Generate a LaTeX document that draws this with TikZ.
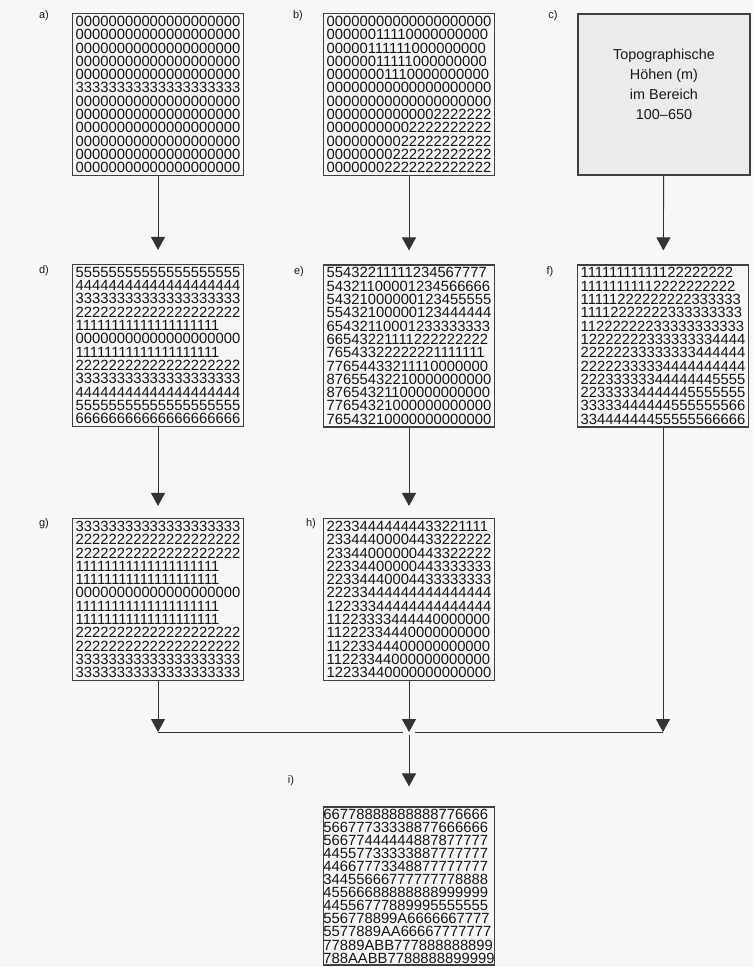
\documentclass[tikz,border=0pt]{standalone}
\usepackage{fontspec}
\setmainfont{Liberation Sans}
\usetikzlibrary{arrows.meta,positioning}

\begin{document}
\begin{tikzpicture}[x=1pt, y=1pt, >={Triangle[width=14pt,length=13pt]},
  grid/.style={draw=black!75, line width=1.1pt, fill=gray!7, minimum width=171pt, minimum height=162pt, inner sep=0pt, align=left, text=black!92, font=\fontsize{14.8}{13.3}\selectfont},
  topo/.style={draw=black!75, line width=1.1pt, fill=gray!16, minimum width=172pt, minimum height=161pt},
  lbl/.style={text=black!90, font=\fontsize{11}{13}\selectfont},
  conn/.style={->, draw=black!80, line width=0.9pt},
  merge/.style={draw=black!80, line width=0.9pt}]
  \fill[gray!6] (0,0) rectangle (753,-967);
  \useasboundingbox (0,0) rectangle (753,-967);
  % obere Reihe: Ausgangsdaten
  \node[grid] (a) at (158,-94.5) {00000000000000000000\\00000000000000000000\\00000000000000000000\\00000000000000000000\\00000000000000000000\\33333333333333333333\\00000000000000000000\\00000000000000000000\\00000000000000000000\\00000000000000000000\\00000000000000000000\\00000000000000000000};
  \node[grid] (b) at (409,-94.5) {00000000000000000000\\00000011110000000000\\00000111111000000000\\00000011111000000000\\00000001110000000000\\00000000000000000000\\00000000000000000000\\00000000000002222222\\00000000002222222222\\00000000022222222222\\00000000222222222222\\00000002222222222222};
  \node[topo] (c) at (664,-94.5) {};
  \node[text=black!90, align=center, font=\fontsize{14.4}{20}\selectfont] (ctxt) at (664,-84) {Topographische\\Höhen (m)\\im Bereich\\100--650};
  % mittlere Reihe: Distanzen
  \node[grid] (d) at (158,-345.5) {55555555555555555555\\44444444444444444444\\33333333333333333333\\22222222222222222222\\11111111111111111111\\00000000000000000000\\11111111111111111111\\22222222222222222222\\33333333333333333333\\44444444444444444444\\55555555555555555555\\66666666666666666666};
  \node[grid] (e) at (409,-346) {55432211111234567777\\54321100001234566666\\54321000000123455555\\55432100000123444444\\65432110001233333333\\66543221111222222222\\76543322222221111111\\77654433211110000000\\87655432210000000000\\87654321100000000000\\77654321000000000000\\76543210000000000000};
  \node[grid] (f) at (663,-346) {11111111111122222222\\11111111112222222222\\11111222222222333333\\11112222222333333333\\11222222233333333333\\12222222333333334444\\22222233333333444444\\22222333334444444444\\22233333344444445555\\22333334444445555555\\33333444444555555566\\33444444455555566666};
  % untere Reihe: Reklassifizierung
  \node[grid] (g) at (158,-599.5) {33333333333333333333\\22222222222222222222\\22222222222222222222\\11111111111111111111\\11111111111111111111\\00000000000000000000\\11111111111111111111\\11111111111111111111\\22222222222222222222\\22222222222222222222\\33333333333333333333\\33333333333333333333};
  \node[grid] (h) at (409,-599.5) {22334444444433221111\\23344400004433222222\\23344000000443322222\\22334400000443333333\\22334440004433333333\\22233444444444444444\\12233344444444444444\\11223333444440000000\\11222334440000000000\\11223344400000000000\\11223344000000000000\\12233440000000000000};
  \node[grid, minimum height=158pt, font=\fontsize{14.8}{13.1}\selectfont] (i) at (409,-886) {66778888888888776666\\56677733338877666666\\56677444444887877777\\44557733333887777777\\44667773348877777777\\34455666777777778888\\45566688888888999999\\44556777889995555555\\556778899A6666667777\\5577889AA66667777777\\77889ABB777888888899\\788AABB7788888899999};
  % Beschriftung
  \node[lbl] (la) at (44,-16) {a)};
  \node[lbl] (lb) at (298,-16) {b)};
  \node[lbl] (lc) at (553,-16) {c)};
  \node[lbl] (ld) at (44,-271) {d)};
  \node[lbl] (le) at (299,-272) {e)};
  \node[lbl] (lf) at (550,-272) {f)};
  \node[lbl] (lg) at (44,-524) {g)};
  \node[lbl] (lh) at (311,-524) {h)};
  \node[lbl] (li) at (291,-781) {i)};
  % Pfeile
  \draw[conn, shorten >=14pt] (a) -- (d);
  \draw[conn, shorten >=14pt] (b) -- (e);
  \draw[conn, shorten >=14pt] (c) -- (f);
  \draw[conn, shorten >=12pt] (d) -- (g);
  \draw[conn, shorten >=12pt] (e) -- (h);
  \coordinate (mg) at (158,-732);
  \coordinate (mh) at (409,-732);
  \coordinate (mf) at (663,-732);
  \draw[conn] (g) -- (mg);
  \draw[conn] (h) -- (mh);
  \draw[conn] (f) -- (mf);
  \draw[merge] (mg) -- ([xshift=-6pt]mh);
  \draw[merge] ([xshift=6pt]mh) -- (mf);
  \draw[conn, shorten >=20pt] ([yshift=-3pt]mh) -- (i);
\end{tikzpicture}
\end{document}
